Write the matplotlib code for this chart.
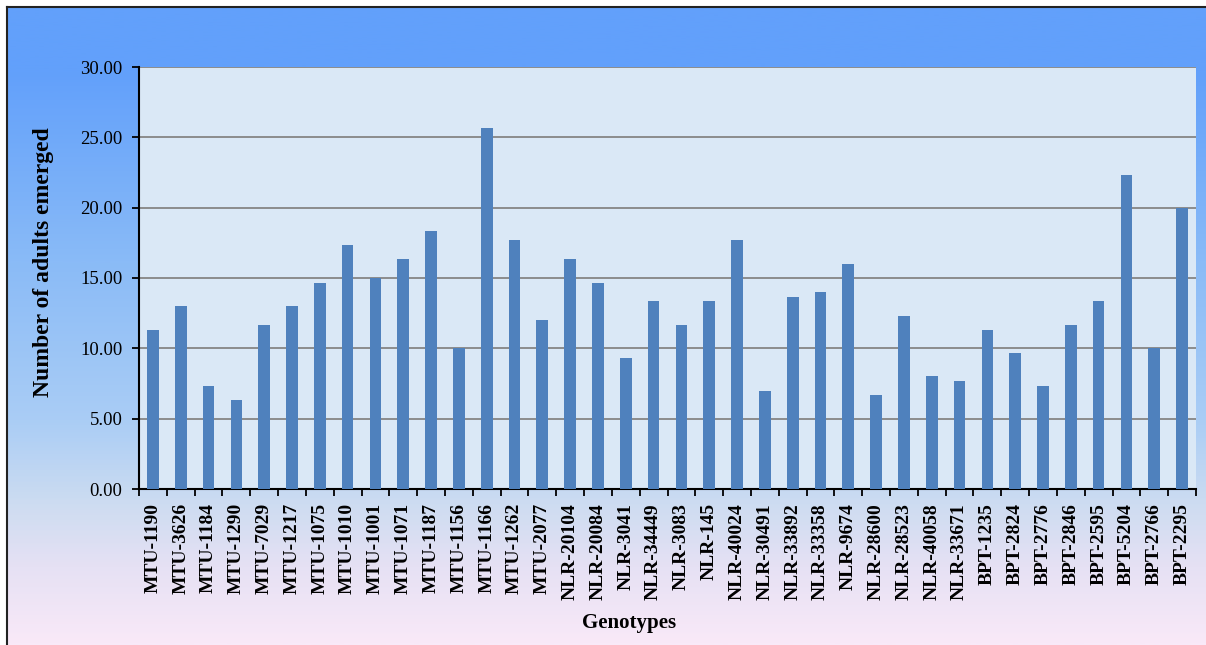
import numpy as np
import matplotlib
matplotlib.use('Agg')
import matplotlib.pyplot as plt
from matplotlib.colors import LinearSegmentedColormap

# data
genotypes = ['MTU-1190', 'MTU-3626', 'MTU-1184', 'MTU-1290', 'MTU-7029', 'MTU-1217',
             'MTU-1075', 'MTU-1010', 'MTU-1001', 'MTU-1071', 'MTU-1187', 'MTU-1156',
             'MTU-1166', 'MTU-1262', 'MTU-2077', 'NLR-20104', 'NLR-20084', 'NLR-3041',
             'NLR-34449', 'NLR-3083', 'NLR-145', 'NLR-40024', 'NLR-30491', 'NLR-33892',
             'NLR-33358', 'NLR-9674', 'NLR-28600', 'NLR-28523', 'NLR-40058', 'NLR-33671',
             'BPT-1235', 'BPT-2824', 'BPT-2776', 'BPT-2846', 'BPT-2595', 'BPT-5204',
             'BPT-2766', 'BPT-2295']
adults = [11.33, 13.00, 7.33, 6.33, 11.67, 13.00, 14.67, 17.33, 15.00, 16.33, 18.33, 10.00,
          25.67, 17.67, 12.00, 16.33, 14.67, 9.33, 13.33, 11.67, 13.33, 17.67, 7.00, 13.67,
          14.00, 16.00, 6.67, 12.33, 8.00, 7.67, 11.33, 9.67, 7.33, 11.67, 13.33, 22.33,
          10.00, 20.00]
yticks = [0, 5, 10, 15, 20, 25, 30]

plt.rcParams['font.family'] = ['Liberation Serif', 'DejaVu Serif']

fig = plt.figure(figsize=(12.06, 6.45), dpi=100, facecolor='white')

# chart area background: blue at the top fading to pale pink
bg = fig.add_axes([7/1206, 0, 1 - 7/1206, 1 - 7/645], zorder=0)
cmap = LinearSegmentedColormap.from_list('chartbg', [
    (0.0, '#62a0fb'), (0.10, '#62a0fb'), (0.40, '#8abbf7'), (0.65, '#aacdf5'),
    (0.78, '#cddcf1'), (0.88, '#e6e1f4'), (1.0, '#f9e9f8')])
bg.imshow(np.linspace(0, 1, 400).reshape(-1, 1), aspect='auto', cmap=cmap,
          extent=[0, 1, 0, 1], origin='upper')
bg.set_xlim(0, 1)
bg.set_ylim(0, 1)
bg.axis('off')
# frame of the chart area (top and left)
fig.add_artist(plt.Line2D([7/1206, 1], [1 - 7/645, 1 - 7/645], color='#222222', lw=1.5))
fig.add_artist(plt.Line2D([7/1206, 7/1206], [0, 1 - 7/645], color='#222222', lw=1.5))

ax = fig.add_axes([139/1206, 1 - 489/645, (1196 - 139)/1206, (489 - 67)/645], zorder=1)
ax.set_facecolor('#dae8f6')

x = np.arange(len(genotypes))
ax.bar(x, adults, width=0.42, color='#4f81bd', zorder=3)

ax.set_xlim(-0.5, len(genotypes) - 0.5)
ax.set_ylim(0, 30)
ax.set_yticks(yticks)
ax.set_yticklabels(['%.2f' % v for v in yticks], fontsize=13.5)
ax.yaxis.grid(True, color='#858585', lw=1.3, zorder=1)
ax.set_axisbelow(True)

# category labels at bar centres, tick marks between categories
ax.set_xticks(x)
ax.set_xticklabels(genotypes, rotation=90, fontsize=14, fontweight='bold')
ax.tick_params(axis='x', which='major', length=0, pad=10)
ax.set_xticks(np.arange(-0.5, len(genotypes)), minor=True)
ax.tick_params(axis='x', which='minor', length=5, width=1.3, direction='out', color='black')
ax.tick_params(axis='y', length=5, width=1.3, direction='out', pad=7, color='black')

for s in ['top', 'right']:
    ax.spines[s].set_visible(False)
ax.spines['left'].set_linewidth(1.5)
ax.spines['bottom'].set_linewidth(1.5)

fig.text(44/1206, 1 - 262/645, 'Number of adults emerged', rotation=90, ha='center',
         va='center', fontsize=17, fontweight='bold')
fig.text(629/1206, 1 - 623/645, 'Genotypes', ha='center', va='center',
         fontsize=15, fontweight='bold')

fig.savefig('out.png', dpi=100, facecolor=fig.get_facecolor())
